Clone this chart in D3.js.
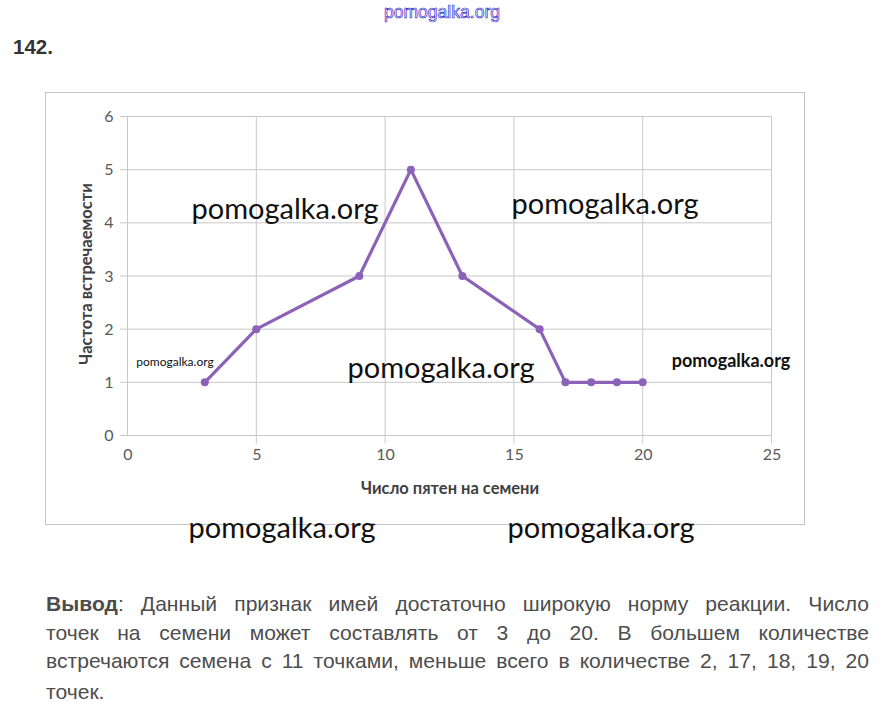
<!DOCTYPE html>
<html>
<head>
<meta charset="utf-8">
<script src="https://cdn.jsdelivr.net/npm/d3@7"></script>
<style>
  body { margin: 0; background: #fff; }
  svg { display: block; }
</style>
</head>
<body>
<svg id="chart" width="882" height="719"></svg>
<script>
// data
var spots = [3, 5, 9, 11, 13, 16, 17, 18, 19, 20];
var freq = [1, 2, 3, 5, 3, 2, 1, 1, 1, 1];
var xTicks = [0, 5, 10, 15, 20, 25];
var yTicks = [0, 1, 2, 3, 4, 5, 6];
var xTitle = "Число пятен на семени";
var yTitle = "Частота встречаемости";
var conclusion = [
    "Данный признак имей достаточно широкую норму реакции. Число",
    "точек на семени может составлять от 3 до 20. В большем количестве",
    "встречаются семена с 11 точками, меньше всего в количестве 2, 17, 18, 19, 20",
    "точек."
];

var svg = d3.select("#chart");
var textFont = "'Liberation Sans', Arial, sans-serif";
var chartFont = "Lato, 'Open Sans', sans-serif";

svg.append("rect").attr("width", 882).attr("height", 719).attr("fill", "#fff");

// site logo on top
svg.append("text")
    .attr("x", 384).attr("y", 18)
    .attr("font-family", textFont)
    .attr("font-size", 18)
    .attr("fill", "#fff")
    .attr("stroke", "#2c2ccc")
    .attr("stroke-width", 0.7)
    .attr("textLength", 116)
    .attr("lengthAdjust", "spacingAndGlyphs")
    .text("pomogalka.org");

svg.append("text")
    .attr("x", 13).attr("y", 54)
    .attr("font-family", textFont)
    .attr("font-weight", "bold")
    .attr("font-size", 20)
    .attr("fill", "#333")
    .attr("textLength", 40)
    .attr("lengthAdjust", "spacingAndGlyphs")
    .text("142.");

// chart frame
svg.append("rect")
    .attr("x", 45.5).attr("y", 92.5)
    .attr("width", 759).attr("height", 432)
    .attr("fill", "none")
    .attr("stroke", "#c4c4c4");

var x = d3.scaleLinear().domain([0, 25]).range([127.5, 771.5]);
var y = d3.scaleLinear().domain([0, 6]).range([435.5, 116.5]);

var grid = svg.append("g").attr("stroke", "#c8c8c8").attr("stroke-width", 1);

grid.selectAll(".hg").data(yTicks).enter().append("line")
    .attr("x1", 120).attr("x2", x(25))
    .attr("y1", function (d) { return y(d); })
    .attr("y2", function (d) { return y(d); });

grid.selectAll(".vg").data(xTicks).enter().append("line")
    .attr("x1", function (d) { return x(d); })
    .attr("x2", function (d) { return x(d); })
    .attr("y1", y(6))
    .attr("y2", function (d) { return d === 0 ? y(0) : y(0) + 8; });

// axes labels via d3 axes, lines hidden
var xAxis = svg.append("g")
    .attr("transform", "translate(0," + (y(0) + 8) + ")")
    .call(d3.axisBottom(x).tickValues(xTicks).tickFormat(d3.format("d")).tickSize(0).tickPadding(5));
var yAxis = svg.append("g")
    .attr("transform", "translate(" + (x(0) - 10) + ",0)")
    .call(d3.axisLeft(y).tickValues(yTicks).tickFormat(d3.format("d")).tickSize(0).tickPadding(4));

[xAxis, yAxis].forEach(function (a) {
    a.select(".domain").remove();
    a.selectAll("text")
        .attr("font-family", chartFont)
        .attr("font-size", 16)
        .attr("fill", "#595959");
});

svg.append("text")
    .attr("x", 450).attr("y", 494)
    .attr("text-anchor", "middle")
    .attr("font-family", chartFont)
    .attr("font-weight", "bold")
    .attr("font-size", 16.5)
    .attr("fill", "#404040")
    .text(xTitle);

svg.append("text")
    .attr("transform", "translate(92,274) rotate(-90)")
    .attr("text-anchor", "middle")
    .attr("font-family", chartFont)
    .attr("font-weight", "bold")
    .attr("font-size", 16.5)
    .attr("fill", "#404040")
    .text(yTitle);

// the series
var pts = spots.map(function (s, i) { return [s, freq[i]]; });
var purple = "#8c62b9";

svg.append("path")
    .datum(pts)
    .attr("fill", "none")
    .attr("stroke", purple)
    .attr("stroke-width", 3.2)
    .attr("stroke-linejoin", "round")
    .attr("d", d3.line()
        .x(function (d) { return x(d[0]); })
        .y(function (d) { return y(d[1]); }));

svg.selectAll(".pt").data(pts).enter().append("circle")
    .attr("cx", function (d) { return x(d[0]); })
    .attr("cy", function (d) { return y(d[1]); })
    .attr("r", 4)
    .attr("fill", purple);

// watermarks
var marks = [
    { x: 285, y: 219, s: 29, w: "normal" },
    { x: 605, y: 214, s: 29, w: "normal" },
    { x: 441, y: 378, s: 29, w: "normal" },
    { x: 282, y: 538, s: 29, w: "normal" },
    { x: 601, y: 538, s: 29, w: "normal" },
    { x: 175, y: 366, s: 12, w: "normal" },
    { x: 731, y: 367, s: 18, w: "bold" }
];
svg.selectAll(".wm").data(marks).enter().append("text")
    .attr("x", function (d) { return d.x; })
    .attr("y", function (d) { return d.y; })
    .attr("text-anchor", "middle")
    .attr("font-family", chartFont)
    .attr("font-size", function (d) { return d.s; })
    .attr("font-weight", function (d) { return d.w; })
    .attr("fill", "#111")
    .text("pomogalka.org");

// conclusion paragraph, justified word by word
var left = 46, right = 869;
var lineY = [611, 640, 668, 699];
var normalGap = 10;

var lines = conclusion.map(function (line, li) {
    var items = [];
    if (li === 0) {
        items.push({ t: "Вывод", b: true });
        items.push({ t: ":", b: false, glue: true });
    }
    line.split(" ").forEach(function (w) { items.push({ t: w, b: false }); });
    items.forEach(function (it) {
        it.node = svg.append("text")
            .attr("y", lineY[li])
            .attr("font-family", textFont)
            .attr("font-size", 21)
            .attr("font-weight", it.b ? "bold" : "normal")
            .attr("fill", "#4d4d4d")
            .text(it.t);
        it.raw = it.node.node().getComputedTextLength();
    });
    return items;
});

// the third line is set nearly tight, use it to find how narrow the face is
var l3 = lines[2];
var squeeze = (right - left - normalGap * (l3.length - 1)) / d3.sum(l3, function (d) { return d.raw; });

lines.forEach(function (items, li) {
    items.forEach(function (it) {
        it.w = it.raw * squeeze;
        it.node.attr("textLength", it.w).attr("lengthAdjust", "spacingAndGlyphs");
    });
    var gaps = items.filter(function (it, i) { return i > 0 && !it.glue; }).length;
    var total = d3.sum(items, function (d) { return d.w; });
    var justify = li < lines.length - 1;
    var gap = justify ? (right - left - total) / gaps : normalGap;
    var cx = left;
    items.forEach(function (it, i) {
        if (i > 0 && !it.glue) cx += gap;
        it.node.attr("x", cx);
        cx += it.w;
    });
});
</script>
</body>
</html>
